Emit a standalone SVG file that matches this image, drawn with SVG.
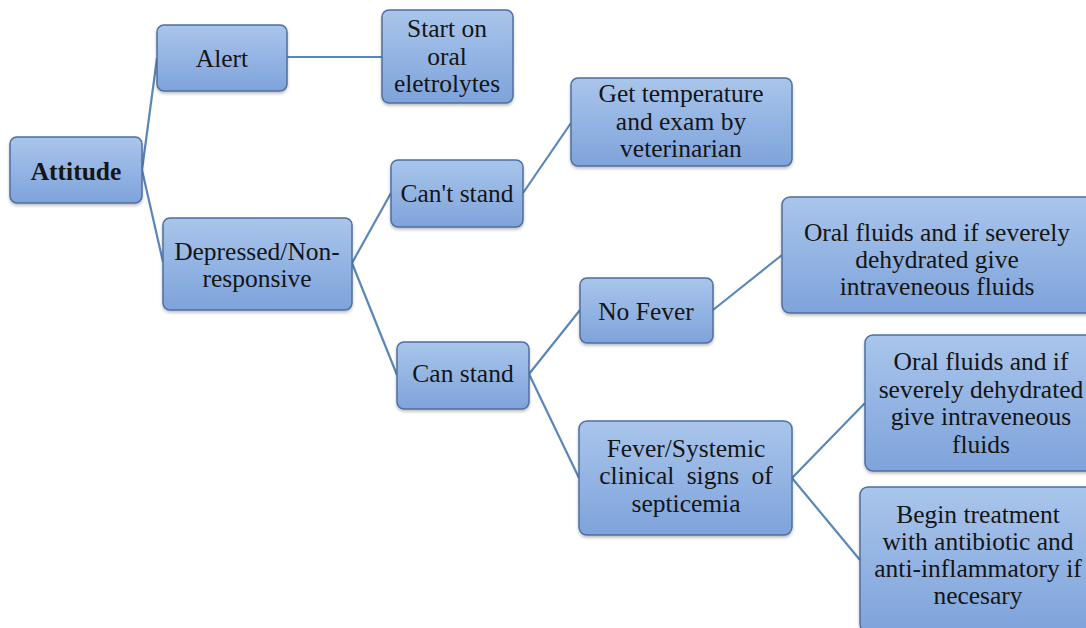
<svg xmlns="http://www.w3.org/2000/svg" width="1086" height="628" viewBox="0 0 1086 628">
<defs>
<linearGradient id="g" x1="0" y1="0" x2="0" y2="1">
<stop offset="0" stop-color="#a9c5eb"/>
<stop offset="1" stop-color="#7ea3db"/>
</linearGradient>
<filter id="sh" x="-10%" y="-10%" width="120%" height="130%">
<feDropShadow dx="0" dy="2" stdDeviation="1.5" flood-color="#000" flood-opacity="0.25"/>
</filter>
</defs>
<style>
.box{fill:url(#g);stroke:#4e6f9e;stroke-width:1.5;filter:url(#sh)}
.t{font-family:'Liberation Serif','Times New Roman',serif;font-size:25.5px;fill:#151515;text-anchor:middle}
.b{font-weight:bold}
.c{stroke:#5a86b8;stroke-width:2.2;fill:none}
</style>
<rect width="1086" height="628" fill="#fff"/>
<g id="connectors">
<line class="c" x1="142" y1="170" x2="157" y2="58"/>
<line class="c" x1="142" y1="170" x2="163" y2="262"/>
<line class="c" x1="287" y1="57" x2="382" y2="57"/>
<line class="c" x1="352" y1="263" x2="391" y2="193"/>
<line class="c" x1="352" y1="263" x2="397" y2="375"/>
<line class="c" x1="523" y1="193" x2="571" y2="123"/>
<line class="c" x1="529" y1="374" x2="580" y2="310"/>
<line class="c" x1="529" y1="374" x2="579" y2="478"/>
<line class="c" x1="713" y1="310" x2="782" y2="255"/>
<line class="c" x1="792" y1="478" x2="865" y2="403"/>
<line class="c" x1="792" y1="478" x2="860" y2="560"/>
</g>
<g id="attitude">
<rect class="box" x="10" y="137" width="132" height="66" rx="7"/>
<text class="t b" x="76" y="180">Attitude</text>
</g>
<g id="alert">
<rect class="box" x="157" y="25" width="130" height="66" rx="7"/>
<text class="t" x="222" y="67">Alert</text>
</g>
<g id="start-oral">
<rect class="box" x="382" y="10" width="131" height="93" rx="7"/>
<text class="t" x="447" y="37">Start on</text>
<text class="t" x="447" y="65">oral</text>
<text class="t" x="447" y="92">eletrolytes</text>
</g>
<g id="depressed">
<rect class="box" x="163" y="218" width="189" height="92" rx="7"/>
<text class="t" x="257" y="260">Depressed/Non-</text>
<text class="t" x="257" y="287">responsive</text>
</g>
<g id="cant-stand">
<rect class="box" x="391" y="160" width="132" height="67" rx="7"/>
<text class="t" x="457" y="202">Can't stand</text>
</g>
<g id="get-temp">
<rect class="box" x="571" y="78" width="221" height="88" rx="7"/>
<text class="t" x="681" y="102">Get temperature</text>
<text class="t" x="681" y="130">and exam by</text>
<text class="t" x="681" y="157">veterinarian</text>
</g>
<g id="oral-fluids-1">
<rect class="box" x="782" y="197" width="315" height="116" rx="8"/>
<text class="t" x="937" y="241">Oral fluids and if severely</text>
<text class="t" x="937" y="268">dehydrated give</text>
<text class="t" x="937" y="295">intraveneous fluids</text>
</g>
<g id="can-stand">
<rect class="box" x="397" y="342" width="132" height="67" rx="7"/>
<text class="t" x="463" y="382">Can stand</text>
</g>
<g id="no-fever">
<rect class="box" x="580" y="278" width="133" height="65" rx="7"/>
<text class="t" x="646" y="320">No Fever</text>
</g>
<g id="fever">
<rect class="box" x="579" y="421" width="213" height="114" rx="8"/>
<text class="t" x="686" y="457">Fever/Systemic</text>
<text class="t" x="686" y="484" word-spacing="6">clinical signs of</text>
<text class="t" x="686" y="512">septicemia</text>
</g>
<g id="oral-fluids-2">
<rect class="box" x="865" y="335" width="232" height="136" rx="8"/>
<text class="t" x="981" y="370">Oral fluids and if</text>
<text class="t" x="981" y="398">severely dehydrated</text>
<text class="t" x="981" y="425">give intraveneous</text>
<text class="t" x="981" y="453">fluids</text>
</g>
<g id="begin-treatment">
<rect class="box" x="860" y="487" width="236" height="145" rx="8"/>
<text class="t" x="978" y="523">Begin treatment</text>
<text class="t" x="978" y="550">with antibiotic and</text>
<text class="t" x="978" y="577">anti-inflammatory if</text>
<text class="t" x="978" y="604">necesary</text>
</g>
</svg>
